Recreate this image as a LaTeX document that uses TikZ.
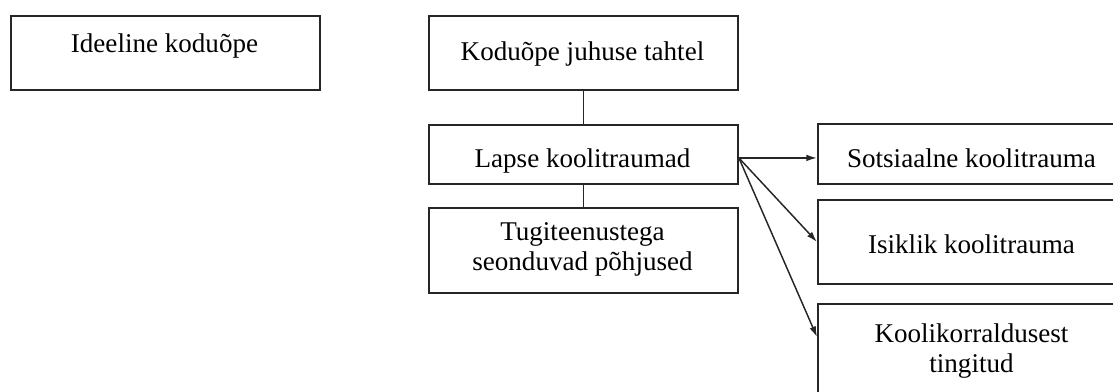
\documentclass[tikz,border=0pt]{standalone}
\usepackage{fontspec}
\setmainfont{Liberation Serif}
\usetikzlibrary{arrows.meta,calc}
\begin{document}
\begin{tikzpicture}[x=0.75pt,y=-0.75pt,
  box/.style={draw=black!85,line width=1.4pt,rectangle,inner sep=0pt,anchor=north west},
  txt/.style={anchor=base,inner sep=0pt,font=\fontsize{20.3pt}{22.5pt}\selectfont,align=center},
  link/.style={draw=black!85,line width=1.4pt},
  arr/.style={draw=black!85,line width=1.1pt,-{Latex[length=8pt,width=5pt]}}]
\useasboundingbox (0,0) rectangle (1113,392);
\clip (0,0) rectangle (1113,392);
% boxes
\node[box,minimum width=309*0.75pt,minimum height=74*0.75pt] (ideal) at (10,15) {};
\node[box,minimum width=309*0.75pt,minimum height=74*0.75pt] (juhus) at (428,15) {};
\node[box,minimum width=309*0.75pt,minimum height=59*0.75pt] (lapse) at (428,124) {};
\node[box,minimum width=309*0.75pt,minimum height=85*0.75pt] (tugi) at (428,207) {};
\node[box,minimum width=309*0.75pt,minimum height=60*0.75pt] (sots) at (817,123) {};
\node[box,minimum width=309*0.75pt,minimum height=84*0.75pt] (isik) at (817,199) {};
\node[box,minimum width=309*0.75pt,minimum height=100*0.75pt] (kool) at (817,303) {};
% texts
\node[txt] (tideal) at (164.5,53) {Ideeline koduõpe};
\node[txt] (tjuhus) at (582.5,61) {Koduõpe juhuse tahtel};
\node[txt] (tlapse) at (582.5,167) {Lapse koolitraumad};
\node[txt] (ttugi) at (582.5,270) {Tugiteenustega\\seonduvad põhjused};
\node[txt] (tsots) at (971.5,168) {Sotsiaalne koolitrauma};
\node[txt] (tisik) at (971.5,253) {Isiklik koolitrauma};
\node[txt] (tkool) at (971.5,372) {Koolikorraldusest\\tingitud};
% connectors
\draw[link] (juhus.south) -- (lapse.north);
\draw[link] (lapse.south) -- (tugi.north);
\coordinate (start) at ($(lapse.east)+(0,3.5)$);
\coordinate (e1) at ($(sots.west)+(0,4)$);
\coordinate (e3) at ($(kool.north west)+(0,34)$);
\draw[arr] (start) -- (e1);
\draw[arr] (start) -- (isik.west);
\draw[arr] (start) -- (e3);
\end{tikzpicture}
\end{document}
